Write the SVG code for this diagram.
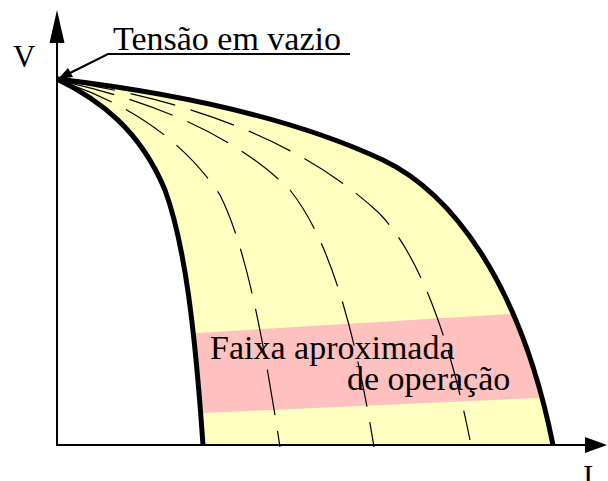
<svg xmlns="http://www.w3.org/2000/svg" width="608" height="481" viewBox="0 0 608 481">
<style>
text{font-family:"Liberation Serif","Times New Roman",serif;fill:#000}
.thick{fill:none;stroke:#000;stroke-width:5;stroke-linejoin:round}
.dash{fill:none;stroke:#000;stroke-width:1.2;stroke-dasharray:46 16;stroke-dashoffset:49}
.axis{fill:none;stroke:#000;stroke-width:2}
</style>
<defs>
<clipPath id="region">
<path d="M57,79 C150,90 280,112 383,160 C450,192 520,280 553,445 L203,445 C195,330 185,245 165,190 C140,130 100,100 57,79 Z"/>
</clipPath>
</defs>
<g id="fill-region">
<path d="M57,79 C150,90 280,112 383,160 C450,192 520,280 553,445 L203,445 C195,330 185,245 165,190 C140,130 100,100 57,79 Z" fill="#FFFFC0"/>
<polygon points="180,334 560,311 560,397 180,414" fill="#FFC0C0" clip-path="url(#region)"/>
</g>
<g id="connectors">
<path class="dash" d="M57,80 C120,100 180,135 220,195 C245,245 262,330 280,447"/>
<path class="dash" d="M57,80 C140,98 230,130 290,190 C330,240 355,330 374,447"/>
<path class="dash" d="M57,80 C160,95 290,130 379,213 C420,255 450,340 470,440"/>
<path class="thick" d="M57,79 C150,90 280,112 383,160 C450,192 520,280 553,445"/>
<path class="thick" d="M57,79 C100,100 140,130 165,190 C185,245 195,330 203,445"/>
</g>
<g id="axes">
<line class="axis" x1="57" y1="446" x2="57" y2="40"/>
<polygon points="57,10 49.5,43 64.5,43" fill="#000"/>
<line class="axis" x1="56" y1="445" x2="588" y2="445"/>
<polygon points="607,445 585,437 585,453" fill="#000"/>
<text x="13" y="67" font-size="31">V</text>
<text x="583" y="487" font-size="31">I</text>
</g>
<g id="label-tensao">
<text x="113" y="50" font-size="34">Tensão em vazio</text>
<polyline class="axis" points="350,54 108,54 70,73"/>
<polygon points="58,79 68,68 73,77" fill="#000"/>
</g>
<g id="label-faixa">
<text x="210" y="359" font-size="34">Faixa aproximada</text>
<text x="347" y="390" font-size="34">de operação</text>
</g>
</svg>
